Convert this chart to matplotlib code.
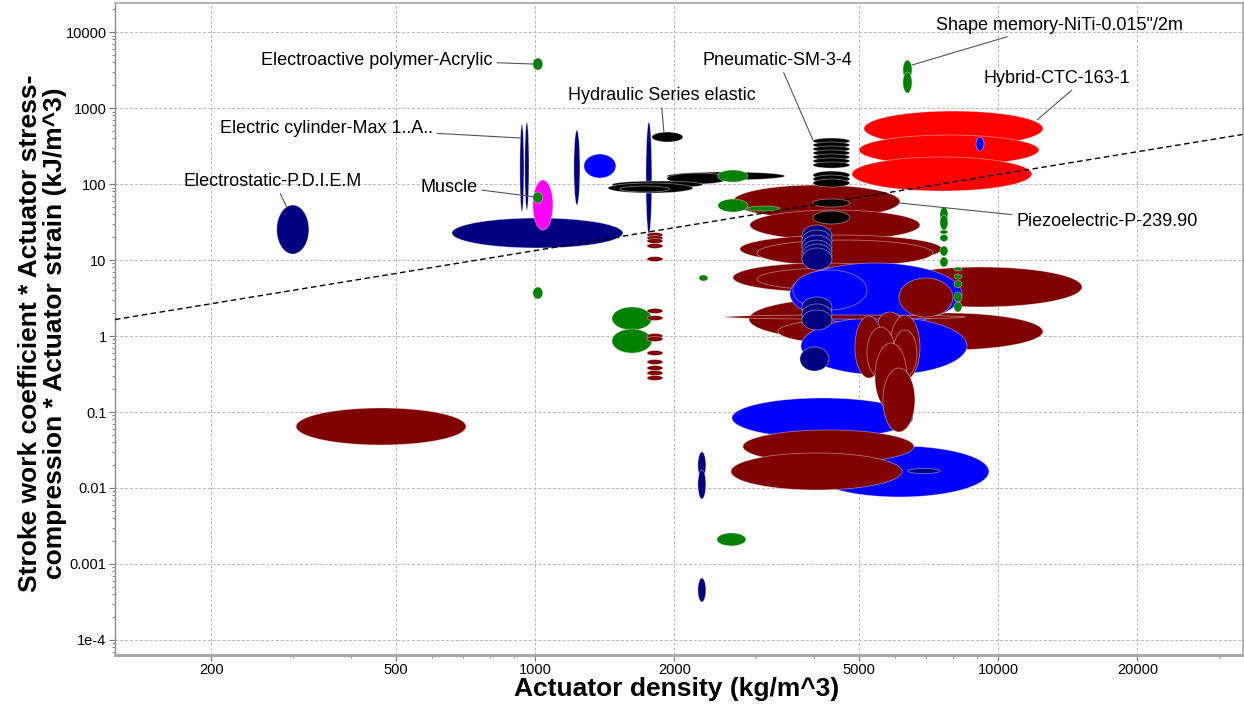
import numpy as np
import matplotlib
matplotlib.use('Agg')
import matplotlib.pyplot as plt
from matplotlib.ticker import LogLocator, NullFormatter

plt.rcParams['font.family'] = ['Liberation Sans', 'DejaVu Sans']

# ---------------- data ----------------
# each ellipse: (family, density min, density max, property min, property max)
family_colors = {
    'electric': '#000080', 'magnetic': '#0000FF', 'piezo': '#800000',
    'hybrid': '#FF0000', 'smart': '#008000', 'fluid': '#000000', 'muscle': '#FF00FF',
}

layer_left = [
    ('piezo', 305, 710, 0.0368, 0.113),
    ('electric', 277, 325, 12.0, 52.9),
    ('electric', 662, 1549, 14.4, 35.7),
    ('electric', 928, 947, 42.8, 615),
    ('electric', 951, 971, 45.5, 654),
    ('electric', 1214, 1251, 52.9, 513),
    ('magnetic', 1276, 1496, 120, 248),
    ('muscle', 990, 1094, 24.8, 113),
    ('smart', 990, 1040, 56.2, 78.5),
    ('smart', 990, 1040, 3160, 4550),
    ('smart', 990, 1040, 3.07, 4.41),
    ('electric', 1737, 1789, 22.0, 654),
]

layer_fluid_left = [
    ('fluid', 1928, 3467, 113, 144),
    ('fluid', 1928, 2611, 100, 139.5),
    ('fluid', 1467, 2306, 88.6, 109.5),
    ('fluid', 1438, 2194, 76.1, 103),
    ('fluid', 1526, 1957, 78.5, 94.1),
    ('fluid', 1789, 2088, 357, 483),
    ('smart', 2484, 2884, 106, 153),
]

layer_mid_left = [
    ('smart', 2261, 2364, 5.29, 6.35),
    ('smart', 1467, 1789, 1.20, 2.41),
    ('smart', 1467, 1789, 0.597, 1.236),
    ('piezo', 1746, 1890, 19.8, 23.0),
    ('piezo', 1746, 1890, 18.1, 21.0),
    ('piezo', 1746, 1890, 16.5, 19.2),
    ('piezo', 1746, 1890, 14.2, 16.5),
    ('piezo', 1746, 1890, 9.56, 11.1),
    ('piezo', 1746, 1890, 1.98, 2.30),
    ('piezo', 1746, 1890, 1.60, 1.86),
    ('piezo', 1746, 1890, 0.927, 1.079),
    ('piezo', 1746, 1890, 0.847, 0.985),
    ('piezo', 1746, 1890, 0.554, 0.645),
    ('piezo', 1746, 1890, 0.422, 0.491),
    ('piezo', 1746, 1890, 0.352, 0.409),
    ('piezo', 1746, 1890, 0.302, 0.352),
    ('piezo', 1746, 1890, 0.260, 0.302),
]

layer_piezo_upper = [
    ('piezo', 2677, 6143, 35.7, 97),
    ('piezo', 2913, 6785, 18.3, 45.5),
    ('piezo', 2772, 7568, 9.13, 21.3),
    ('piezo', 3017, 7238, 8.34, 18.3),
    ('piezo', 2677, 6553, 3.79, 9.13),
    ('piezo', 3017, 6361, 4.03, 7.85),
]

layer_core = [
    ('piezo', 5561, 15190, 2.41, 8.09),
    ('piezo', 2898, 7876, 0.886, 3.16),
    ('piezo', 3348, 7876, 0.761, 1.73),
    ('piezo', 4788, 12510, 0.654, 2.01),
    ('magnetic', 3554, 8361, 1.40, 9.13),
    ('magnetic', 3607, 5212, 2.20, 7.39),
    ('magnetic', 3754, 8572, 0.307, 1.78),
    ('piezo', 2571, 8487, 1.67, 1.89),
    ('piezo', 6113, 7994, 1.78, 5.80),
]

layer_bottom = [
    ('magnetic', 2664, 6553, 0.0455, 0.153),
    ('magnetic', 3926, 9564, 0.00762, 0.0357),
    ('piezo', 2813, 6585, 0.0213, 0.058),
    ('piezo', 2651, 6205, 0.00941, 0.0289),
    ('electric', 6393, 7494, 0.0155, 0.0181),
    ('electric', 2249, 2340, 0.0135, 0.0298),
    ('electric', 2249, 2340, 0.00717, 0.0173),
    ('electric', 2249, 2340, 0.000316, 0.000654),
    ('smart', 2472, 2856, 0.00173, 0.00256),
]

layer_vertical = [
    ('piezo', 5506, 6205, 0.970, 2.07),
    ('piezo', 4910, 5645, 0.280, 1.83),
    ('piezo', 5845, 6785, 0.264, 1.89),
    ('piezo', 5212, 5993, 0.280, 1.31),
    ('piezo', 5933, 6684, 0.289, 1.20),
    ('piezo', 5424, 6361, 0.106, 0.809),
    ('piezo', 5645, 6617, 0.0546, 0.379),
]

layer_navy = [
    ('electric', 3772, 4380, 14.8, 28.9),
    ('electric', 3772, 4380, 12.7, 24.8),
    ('electric', 3772, 4380, 10.95, 21.3),
    ('electric', 3772, 4380, 9.41, 18.3),
    ('electric', 3772, 4380, 8.34, 16.2),
    ('electric', 3772, 4380, 7.39, 14.4),
    ('electric', 3772, 4380, 1.78, 3.26),
    ('electric', 3772, 4380, 1.44, 2.64),
    ('electric', 3772, 4380, 1.20, 2.20),
    ('electric', 3735, 4315, 0.346, 0.717),
]

layer_pneumatic = [
    ('fluid', 3985, 4788, 336, 403),
    ('fluid', 3985, 4788, 298, 357),
    ('fluid', 3985, 4788, 264, 316),
    ('fluid', 3985, 4788, 234, 280),
    ('fluid', 3985, 4788, 207, 248),
    ('fluid', 3985, 4788, 183, 220),
    ('fluid', 3985, 4788, 162, 195),
    ('fluid', 3985, 4788, 116, 148),
    ('fluid', 3985, 4788, 103, 131),
    ('fluid', 3985, 4788, 91.3, 116),
    ('fluid', 3985, 4788, 49.8, 63.5),
    ('fluid', 3985, 4788, 29.8, 44.1),
]

layer_smart_right = [
    ('smart', 2484, 2884, 42.8, 63.5),
    ('smart', 2870, 3382, 44.1, 51.3),
    ('smart', 6235, 6521, 2336, 4281),
    ('smart', 6235, 6521, 1575, 2977),
    ('smart', 7494, 7798, 31.6, 49.8),
    ('smart', 7494, 7798, 24.8, 39.1),
    ('smart', 7494, 7798, 22.0, 24.8),
    ('smart', 7494, 7798, 17.5, 21.7),
    ('smart', 7494, 7798, 11.3, 15.3),
    ('smart', 7494, 7798, 8.09, 10.95),
    ('smart', 8035, 8361, 7.17, 8.09),
    ('smart', 8035, 8361, 5.62, 6.54),
    ('smart', 8035, 8361, 4.35, 5.37),
    ('smart', 8035, 8361, 2.80, 3.79),
    ('smart', 8035, 8361, 2.07, 2.80),
]

layer_hybrid = [
    ('hybrid', 5136, 12510, 316, 913),
    ('hybrid', 5010, 12265, 178, 441),
    ('hybrid', 4839, 11840, 80.9, 227),
    ('magnetic', 8966, 9328, 272, 415),
]

draw_order = (layer_left + layer_fluid_left + layer_mid_left + layer_piezo_upper
              + layer_core + layer_bottom + layer_vertical + layer_navy
              + layer_pneumatic + layer_smart_right + layer_hybrid)

# guide line (slope 1 on log-log axes)
guide_coeff = 0.0133

# labels
label_texts = ['Electroactive polymer-Acrylic', 'Electric cylinder-Max 1..A..',
               'Hydraulic Series elastic', 'Muscle', 'Electrostatic-P.D.I.E.M',
               'Pneumatic-SM-3-4', 'Shape memory-NiTi-0.015"/2m', 'Hybrid-CTC-163-1',
               'Piezoelectric-P-239.90']
label_target_x = [995, 933, 1899, 1005, 291, 3985, 6521, 12140, 6143]
label_target_y = [3793, 403, 483, 67.4, 49.8, 379, 3680, 695, 56.2]
label_text_x = [811, 602, 1876, 753, 272, 3340, 13610, 13410, 10940]
label_text_y = [4281, 545, 1483, 91.3, 109.5, 4281, 12370, 2483, 32.6]
label_ha = ['right', 'right', 'center', 'right', 'center', 'center', 'center', 'center', 'left']
label_relpos = [(1, 0.35), (1, 0.2), (0.5, 0), (1, 0.35), (0.53, 0), (0.53, 0),
                (0.33, 0), (0.63, 0), (0, 0.85)]

x_ticks = [200, 500, 1000, 2000, 5000, 10000, 20000]
x_tick_labels = ['200', '500', '1000', '2000', '5000', '10000', '20000']
y_ticks = [1e-4, 1e-3, 1e-2, 1e-1, 1, 10, 100, 1000, 10000]
y_tick_labels = ['1e-4', '0.001', '0.01', '0.1', '1', '10', '100', '1000', '10000']

# ---------------- figure ----------------
fig = plt.figure(figsize=(12.44, 7.08), dpi=100)
ax = fig.add_axes([0.0924, 0.0749, 0.9064, 0.9204])
ax.set_xscale('log')
ax.set_yscale('log')
ax.set_xlim(123.9, 33740)
ax.set_ylim(6.35e-5, 23870)

t = np.linspace(0, 2 * np.pi, 160)
for fam, xmn, xmx, ymn, ymx in draw_order:
    lx0, lx1 = np.log10(xmn), np.log10(xmx)
    ly0, ly1 = np.log10(ymn), np.log10(ymx)
    cx, rx = (lx0 + lx1) / 2, (lx1 - lx0) / 2
    cy, ry = (ly0 + ly1) / 2, (ly1 - ly0) / 2
    X = 10 ** (cx + rx * np.cos(t))
    Y = 10 ** (cy + ry * np.sin(t))
    ax.fill(X, Y, facecolor=family_colors[fam], edgecolor=(1, 1, 1, 0.45),
            linewidth=0.6, zorder=2)

gx = np.array(ax.get_xlim())
ax.plot(gx, guide_coeff * gx, color='black', linestyle=(0, (4, 2.5)), linewidth=1.0, zorder=5)
ax.set_xlim(123.9, 33740)

for txt, tx, ty, lx, ly, ha, rp in zip(label_texts, label_target_x, label_target_y,
                                        label_text_x, label_text_y, label_ha, label_relpos):
    ax.annotate(txt, xy=(tx, ty), xytext=(lx, ly), ha=ha, va='center', fontsize=13,
                zorder=6,
                arrowprops=dict(arrowstyle='-', color='#555555', lw=0.8,
                                shrinkA=1, shrinkB=0, relpos=rp))

ax.set_xticks(x_ticks, labels=x_tick_labels)
ax.set_yticks(y_ticks, labels=y_tick_labels)
ax.xaxis.set_minor_locator(LogLocator(base=10, subs=np.arange(2, 10), numticks=100))
ax.yaxis.set_minor_locator(LogLocator(base=10, subs=np.arange(2, 10), numticks=100))
ax.xaxis.set_minor_formatter(NullFormatter())
ax.yaxis.set_minor_formatter(NullFormatter())
ax.tick_params(which='major', length=4, width=0.8, color='#777777', labelsize=10.5, pad=2)
ax.tick_params(which='minor', length=2.5, width=0.6, color='#777777')

ax.set_axisbelow(True)
ax.grid(True, which='major', color='#b8b8b8', linestyle=(0, (3, 2)), linewidth=0.7)

ax.spines['left'].set_color('#8a8a8a')
ax.spines['left'].set_linewidth(1.0)
ax.spines['bottom'].set_color('#a8a8a8')
ax.spines['bottom'].set_linewidth(2.2)
for s in ('top', 'right'):
    ax.spines[s].set_color('#a8a8a8')
    ax.spines[s].set_linewidth(1.2)

ax.set_xlabel('Actuator density (kg/m^3)', fontsize=19, fontweight='bold', va='center')
ax.xaxis.set_label_coords(0.498, -0.052)
ax.set_ylabel('Stroke work coefficient * Actuator stress-\ncompression * Actuator strain (kJ/m^3)',
              fontsize=19, fontweight='bold', va='center', linespacing=1.05)
ax.yaxis.set_label_coords(-0.064, 0.494)

fig.savefig('out.png', dpi=100)
